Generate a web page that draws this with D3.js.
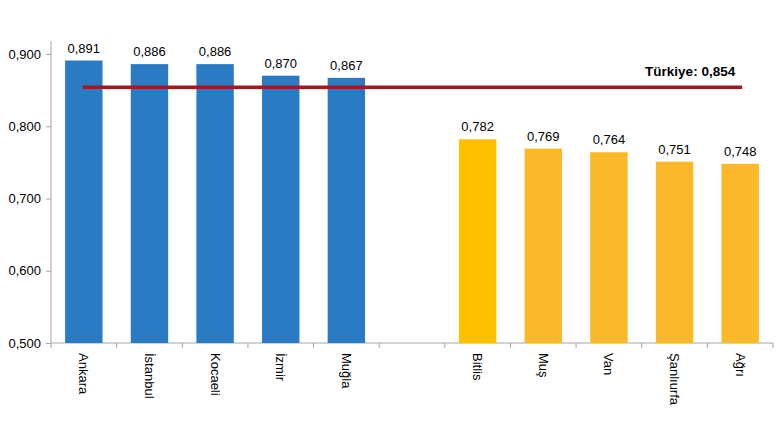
<!DOCTYPE html>
<html>
<head>
<meta charset="utf-8">
<script src="https://cdn.jsdelivr.net/npm/d3@7"></script>
<style>
  body { margin: 0; background: #fff; }
  svg text { font-family: "Liberation Sans", Arial, sans-serif; fill: #000; }
</style>
</head>
<body>
<svg id="chart" width="780" height="440"></svg>
<script>
// provinces, highest and lowest
var topProvinces = ['Ankara', 'İstanbul', 'Kocaeli', 'İzmir', 'Muğla'];
var topValues = [0.891, 0.886, 0.886, 0.870, 0.867];
var bottomProvinces = ['Bitlis', 'Muş', 'Van', 'Şanlıurfa', 'Ağrı'];
var bottomValues = [0.782, 0.769, 0.764, 0.751, 0.748];
var turkeyValue = 0.854;
var yTicks = [0.5, 0.6, 0.7, 0.8, 0.9];

var fmt = function(v) { return d3.format('.3f')(v).replace('.', ','); };

var rows = [];
topProvinces.forEach(function(p, i) { rows.push({name: p, value: topValues[i], group: 'top'}); });
rows.push({name: '__gap', value: null});
bottomProvinces.forEach(function(p, i) { rows.push({name: p, value: bottomValues[i], group: 'bottom'}); });

// note: "top" is a reserved window property, so plot edges get their own names
var plotLeft = 51, plotRight = 773, plotTop = 41, plotBottom = 343;

var x = d3.scaleBand()
    .domain(rows.map(function(d) { return d.name; }))
    .range([plotLeft, plotRight])
    .paddingInner(0.43)
    .paddingOuter(0.215);

var y = d3.scaleLinear()
    .domain([0.5, 0.918])
    .range([plotBottom, plotTop]);

var svg = d3.select('#chart');

// y axis
var yAxis = svg.append('g')
    .attr('transform', 'translate(' + plotLeft + ',0)')
    .call(d3.axisLeft(y).tickValues(yTicks).tickFormat(fmt).tickSize(5).tickPadding(5));
yAxis.select('.domain').attr('stroke', '#a6a6a6').attr('d', 'M0,' + plotTop + 'V' + plotBottom);
yAxis.selectAll('.tick line').attr('stroke', '#a6a6a6');
yAxis.selectAll('.tick text').attr('font-size', 13).attr('fill', '#000')
    .attr('font-family', '"Liberation Sans", Arial, sans-serif');

// x axis with ticks between categories
var boundaries = d3.range(rows.length + 1).map(function(i) {
  return plotLeft + i * (plotRight - plotLeft) / rows.length;
});
svg.append('line')
    .attr('x1', plotLeft).attr('x2', plotRight)
    .attr('y1', plotBottom).attr('y2', plotBottom)
    .attr('stroke', '#a6a6a6');
svg.selectAll('.xtick').data(boundaries).enter().append('line')
    .attr('x1', function(d) { return d; }).attr('x2', function(d) { return d; })
    .attr('y1', plotBottom).attr('y2', plotBottom + 5)
    .attr('stroke', '#a6a6a6');

var data = rows.filter(function(d) { return d.value !== null; });

svg.selectAll('.bar').data(data).enter().append('rect')
    .attr('x', function(d) { return x(d.name); })
    .attr('width', x.bandwidth())
    .attr('y', function(d) { return y(d.value); })
    .attr('height', function(d) { return plotBottom - y(d.value); })
    .attr('fill', function(d) {
      if (d.group === 'top') return '#2a7bc4';
      return d.name === 'Bitlis' ? '#ffc000' : '#fbb92a';
    });

svg.selectAll('.val').data(data).enter().append('text')
    .attr('x', function(d) { return x(d.name) + x.bandwidth() / 2; })
    .attr('y', function(d) { return y(d.value) - 8; })
    .attr('text-anchor', 'middle')
    .attr('font-size', 13)
    .text(function(d) { return fmt(d.value); });

svg.selectAll('.cat').data(data).enter().append('text')
    .attr('transform', function(d) {
      return 'translate(' + (x(d.name) + x.bandwidth() / 2 - 4.5) + ',' + (plotBottom + 10) + ') rotate(90)';
    })
    .attr('font-size', 13)
    .text(function(d) { return d.name; });

// Türkiye average line
var firstCenter = x(rows[0].name) + x.bandwidth() / 2;
var lastCenter = x(rows[rows.length - 1].name) + x.bandwidth() / 2;
svg.append('line')
    .attr('x1', firstCenter - 1).attr('x2', lastCenter + 2)
    .attr('y1', y(turkeyValue)).attr('y2', y(turkeyValue))
    .attr('stroke', '#9e1b20')
    .attr('stroke-width', 3.5);

svg.append('text')
    .attr('x', lastCenter - 5)
    .attr('y', y(turkeyValue) - 11)
    .attr('text-anchor', 'end')
    .attr('font-size', 13.5)
    .attr('font-weight', 'bold')
    .text('Türkiye: ' + fmt(turkeyValue));
</script>
</body>
</html>
